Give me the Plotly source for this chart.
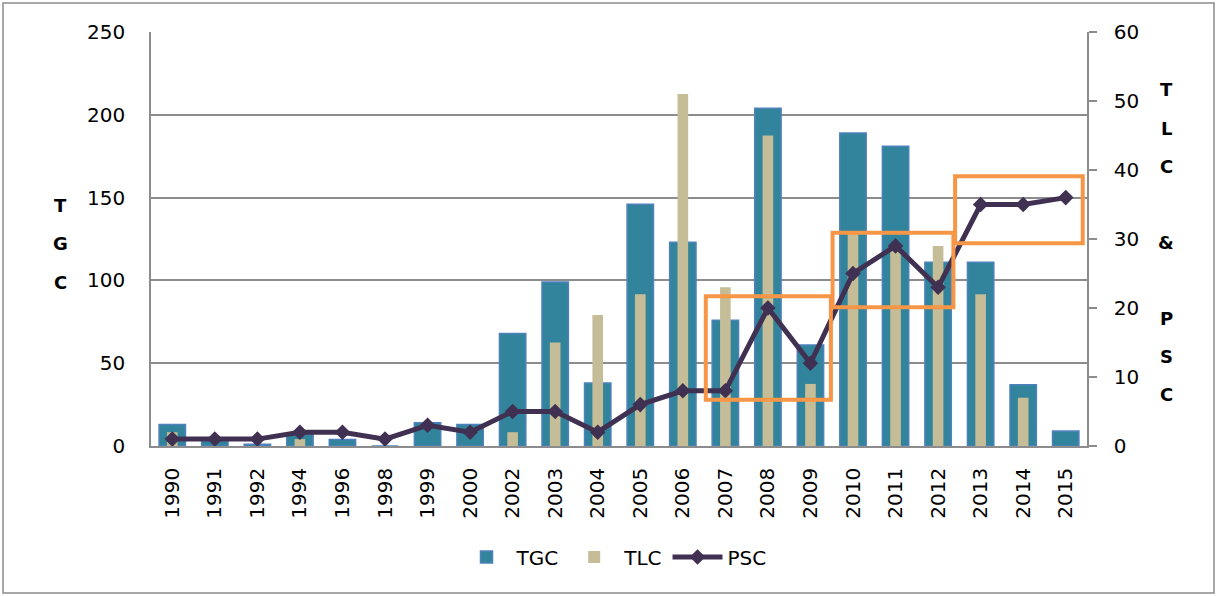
import plotly.graph_objects as go

years = ["1990", "1991", "1992", "1994", "1996", "1998", "1999", "2000", "2002", "2003", "2004",
         "2005", "2006", "2007", "2008", "2009", "2010", "2011", "2012", "2013", "2014", "2015"]
tgc = [13, 3, 1, 7, 4, 0, 14, 13, 68, 99, 38, 146, 123, 76, 204, 61, 189, 181, 111, 111, 37, 9]
tlc = [2, 0, 0, 1, 0, 0, 0, 0, 2, 15, 19, 22, 51, 23, 45, 9, 31, 29, 29, 22, 7, 0]
psc = [1, 1, 1, 2, 2, 1, 3, 2, 5, 5, 2, 6, 8, 8, 20, 12, 25, 29, 23, 35, 35, 36]

# highlight boxes: (first category, last category, bottom, top) on right axis
boxes = [("2007", "2009", 6.7, 21.7), ("2010", "2012", 20.1, 30.9), ("2013", "2015", 29.4, 39.1)]
box_pad = [(-0.46, 0.48), (-0.48, 0.36), (-0.6, 0.4)]

left_title = ["T", "G", "C"]
right_title = ["T", "L", "C", "", "&", "", "P", "S", "C"]

FONT = "DejaVu Sans"
fig = go.Figure()
fig.add_trace(go.Bar(x=years, y=tgc, name="TGC", width=0.62,
                     marker=dict(color="#31849B", line=dict(color="#4F81BD", width=1.5)),
                     yaxis="y"))
fig.add_trace(go.Bar(x=years, y=tlc, name="TLC", width=0.25,
                     marker=dict(color="#C4BD97", line=dict(width=0)), yaxis="y2"))
fig.add_trace(go.Scatter(x=years, y=psc, name="PSC", mode="lines+markers", yaxis="y2",
                         line=dict(color="#403152", width=5),
                         marker=dict(symbol="diamond", size=12, color="#403152")))

shapes = []
for (a, b, lo, hi), (pa, pb) in zip(boxes, box_pad):
    shapes.append(dict(type="rect", xref="x", yref="y2",
                       x0=years.index(a) + pa, x1=years.index(b) + pb, y0=lo, y1=hi,
                       line=dict(color="#F79646", width=4), layer="above"))
# outer chart border (pixel -> paper)
def px(x): return (x - 151) / 936
def py(y): return (446 - y) / 414
shapes.append(dict(type="rect", xref="paper", yref="paper", x0=px(3), x1=px(1214),
                   y0=py(593), y1=py(3), line=dict(color="#8c8c8c", width=1.5)))

annotations = []
for i, ch in enumerate(left_title):
    annotations.append(dict(text="<b>" + ch + "</b>", xref="paper", yref="paper", x=px(60),
                            y=py(205 + 38.5 * i), showarrow=False,
                            font=dict(family=FONT, size=18, color="black"),
                            xanchor="center", yanchor="middle"))
for i, ch in enumerate(right_title):
    if ch:
        annotations.append(dict(text="<b>" + ch + "</b>", xref="paper", yref="paper", x=px(1166),
                                y=py(90 + 38.1 * i), showarrow=False,
                                font=dict(family=FONT, size=18, color="black"),
                                xanchor="center", yanchor="middle"))

fig.update_layout(
    width=1218, height=596,
    margin=dict(l=151, r=131, t=32, b=150),
    paper_bgcolor="white", plot_bgcolor="white",
    barmode="overlay",
    font=dict(family=FONT, size=20, color="black"),
    xaxis=dict(type="category", range=[-0.5, len(years) - 0.5], tickangle=-90, showline=True,
               linecolor="#8c8c8c", linewidth=1.5, ticks="", showgrid=False,
               tickfont=dict(size=20), ticklabelstandoff=12),
    yaxis=dict(range=[0, 250], dtick=50, showgrid=True, gridcolor="#8c8c8c", gridwidth=1.5,
               showline=True, linecolor="#8c8c8c", linewidth=1.5, ticks="", zeroline=False,
               ticklabelstandoff=20),
    yaxis2=dict(range=[0, 60], dtick=10, overlaying="y", side="right", showgrid=False,
                showline=True, linecolor="#8c8c8c", linewidth=1.5, ticks="outside",
                ticklen=8, tickcolor="#8c8c8c", tickwidth=1.5, zeroline=False,
                ticklabelstandoff=13),
    legend=dict(orientation="h", x=px(614), xanchor="center", y=py(557), yanchor="middle",
                font=dict(size=20), traceorder="normal", itemwidth=50),
    shapes=shapes, annotations=annotations,
)
fig.write_html("out.html", config={"displayModeBar": False},
               post_script="document.body.style.margin='0px';")
